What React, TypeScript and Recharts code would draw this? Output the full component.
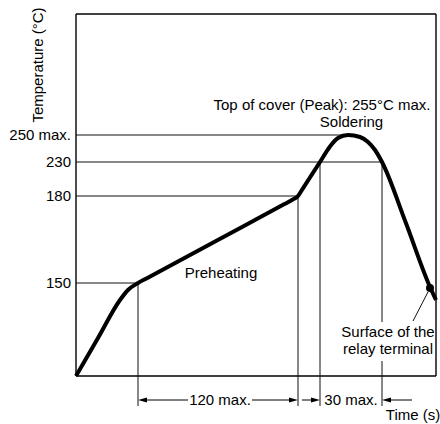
import { LineChart, Line, XAxis, YAxis, ReferenceLine, ReferenceDot } from 'recharts';

// Schematic reflow profile. Both axes are drawn out of scale in the source,
// so values are kept in "profile units" (x: time, y: temperature level).
const TIME = [0, 22, 44, 52, 62, 70, 140, 208, 216, 222, 226, 233, 244, 254, 262, 272, 284, 292, 299, 306, 330, 354, 360];
const LEVEL = [0, 38, 76, 86, 93, 97.3, 135, 171.7, 176, 180, 186.2, 197, 214, 229.6, 238, 241, 239, 234, 226, 214, 152.7, 89, 76];

const Y_TICKS = [93, 180, 214, 241];
const Y_TICK_LABELS = ['150', '180', '230', '250 max.'];

// x position where each temperature guide meets the curve
const GUIDE_END = [62, 222, 306, 268];

// vertical guides: x, top level
const V_GUIDES = [
  { x: 62, top: 93 },
  { x: 222, top: 180 },
  { x: 244, top: 214 },
];
const TERMINAL_X = 306;
const X_MAX = 360;
const Y_MAX = 362;
const DIM_Y = -24;
const GUIDE_BOTTOM = -30;

const TERMINAL_DOT = { x: 354, y: 88 };

const data = TIME.map((t, i) => ({ x: t, y: LEVEL[i] }));

const INK = '#000';
const FONT = '"Liberation Sans", Arial, Helvetica, sans-serif';

function Arrow(props: any) {
  const { x1, y1, x2, y2 } = props;
  const ang = Math.atan2(y2 - y1, x2 - x1);
  const len = 9;
  const half = 2.6;
  const bx = x2 - len * Math.cos(ang);
  const by = y2 - len * Math.sin(ang);
  const px = -Math.sin(ang) * half;
  const py = Math.cos(ang) * half;
  return (
    <g>
      <line x1={x1} y1={y1} x2={bx} y2={by} stroke={INK} strokeWidth={1} />
      <polygon points={`${x2},${y2} ${bx + px},${by + py} ${bx - px},${by - py}`} fill={INK} />
    </g>
  );
}

function Txt({ x, y, text, angle }: { x: number; y: number; text: string; angle?: number }) {
  return (
    <ReferenceDot
      x={x}
      y={y}
      r={0}
      ifOverflow="visible"
      stroke="none"
      label={{ value: text, position: 'center', fill: INK, fontSize: 15, angle }}
    />
  );
}

export default function App() {
  const thin = { stroke: '#111', strokeWidth: 1, ifOverflow: 'visible' as const };
  return (
    <div style={{ position: 'absolute', left: 0, top: 0, width: 440, height: 424, overflow: 'hidden', fontFamily: FONT, background: '#fff' }}>
      <LineChart width={440} height={424} data={data} margin={{ top: 14, right: 4, left: 0, bottom: 48 }}>
        <XAxis dataKey="x" type="number" domain={[0, X_MAX]} hide />
        <YAxis
          type="number"
          domain={[0, Y_MAX]}
          ticks={Y_TICKS}
          interval={0}
          tickFormatter={(v) => Y_TICK_LABELS[Y_TICKS.indexOf(v)] ?? ''}
          tick={{ fill: INK, fontSize: 15 }}
          axisLine={false}
          tickLine={false}
          tickSize={0}
          tickMargin={5}
          width={76}
        />

        {/* frame */}
        <ReferenceLine x={0} stroke={INK} strokeWidth={1.4} />
        <ReferenceLine x={X_MAX} stroke={INK} strokeWidth={1.4} />
        <ReferenceLine y={0} stroke={INK} strokeWidth={1.4} />
        <ReferenceLine y={Y_MAX} stroke={INK} strokeWidth={1.4} />

        {/* temperature guides */}
        {Y_TICKS.map((t, i) => (
          <ReferenceLine key={t} segment={[{ x: 0, y: t }, { x: GUIDE_END[i], y: t }]} {...thin} />
        ))}

        {/* time guides */}
        {V_GUIDES.map((g) => (
          <ReferenceLine key={g.x} segment={[{ x: g.x, y: g.top }, { x: g.x, y: GUIDE_BOTTOM }]} {...thin} />
        ))}
        <ReferenceLine segment={[{ x: TERMINAL_X, y: 214 }, { x: TERMINAL_X, y: 54 }]} {...thin} />
        <ReferenceLine segment={[{ x: TERMINAL_X, y: 15 }, { x: TERMINAL_X, y: GUIDE_BOTTOM }]} {...thin} />

        {/* dimension arrows */}
        <ReferenceLine segment={[{ x: 112, y: DIM_Y }, { x: 62, y: DIM_Y }]} ifOverflow="visible" shape={Arrow} />
        <ReferenceLine segment={[{ x: 176, y: DIM_Y }, { x: 222, y: DIM_Y }]} ifOverflow="visible" shape={Arrow} />
        <ReferenceLine segment={[{ x: 226, y: DIM_Y }, { x: 244, y: DIM_Y }]} ifOverflow="visible" shape={Arrow} />
        <ReferenceLine segment={[{ x: 336, y: DIM_Y }, { x: 306, y: DIM_Y }]} ifOverflow="visible" shape={Arrow} />

        {/* leader to relay terminal */}
        <ReferenceLine segment={[{ x: 352, y: 84 }, { x: 337, y: 55 }]} {...thin} />

        <Line
          dataKey="y"
          type="monotone"
          stroke={INK}
          strokeWidth={4}
          dot={false}
          isAnimationActive={false}
        />
        <ReferenceDot x={TERMINAL_DOT.x} y={TERMINAL_DOT.y} r={4} fill={INK} stroke="none" ifOverflow="visible" />

        <Txt x={-38} y={311} text="Temperature (°C)" angle={-90} />
        <Txt x={246} y={271} text="Top of cover (Peak): 255°C max." />
        <Txt x={275.5} y={254} text="Soldering" />
        <Txt x={145} y={103} text="Preheating" />
        <Txt x={312} y={44} text="Surface of the" />
        <Txt x={312} y={27} text="relay terminal" />
        <Txt x={144} y={DIM_Y} text="120 max." />
        <Txt x={275} y={DIM_Y} text="30 max." />
        <Txt x={337} y={-39} text="Time (s)" />
      </LineChart>
    </div>
  );
}
